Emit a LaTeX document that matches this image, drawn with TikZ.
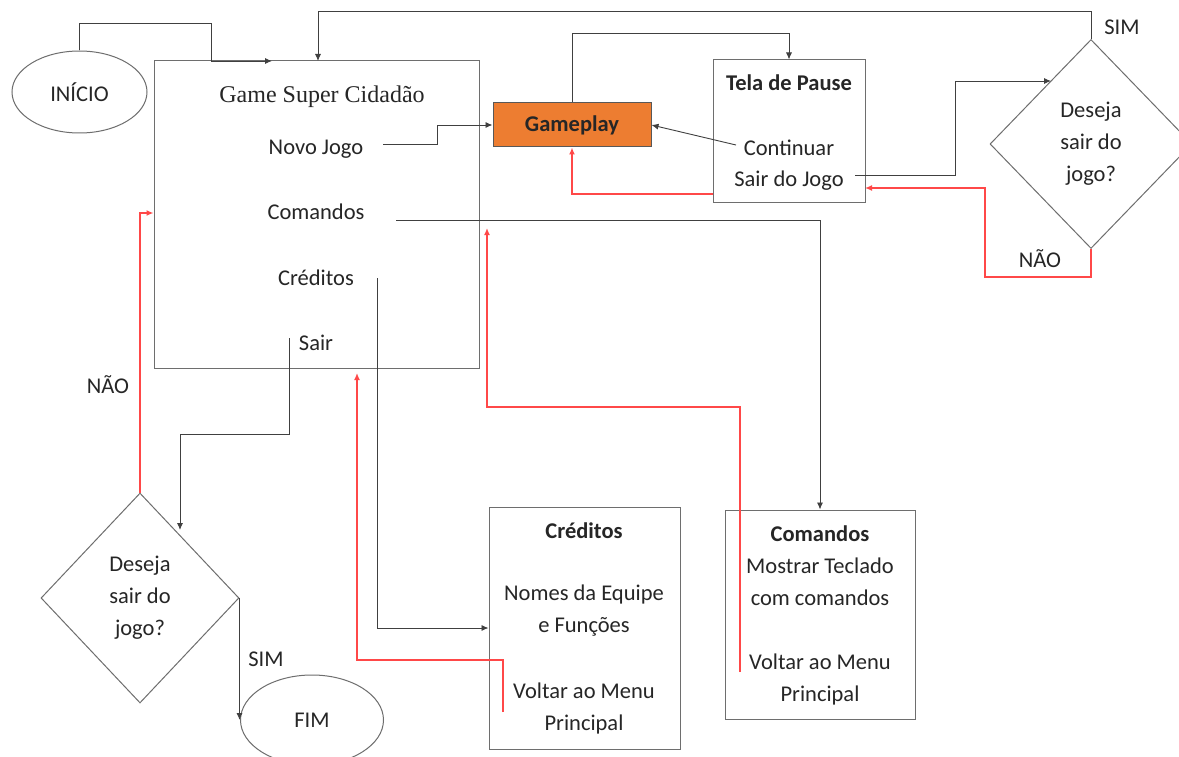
\documentclass[tikz,border=0pt]{standalone}
\usepackage{fontspec}
\setmainfont{Carlito}
\newfontfamily\titleserif{Liberation Serif}
\usetikzlibrary{arrows.meta,shapes.geometric}
\definecolor{lineg}{HTML}{404040}
\definecolor{boxg}{HTML}{6E6E6E}
\definecolor{orangefill}{HTML}{ED7D31}
\definecolor{redline}{HTML}{FF4848}
\definecolor{txt}{HTML}{262626}
\begin{document}
\begin{tikzpicture}[x=1pt,y=-1pt,
  every node/.style={font=\fontsize{22.5}{32}\selectfont, text=txt, inner sep=0pt, align=center},
  box/.style={draw=boxg, line width=1pt},
  conn/.style={draw=lineg, line width=0.9pt, -{Latex[length=7pt,width=6pt]}},
  back/.style={draw=redline, line width=1.6pt, -{Latex[length=7pt,width=6pt]}},
  lbl/.style={font=\fontsize{22.5}{26}\selectfont},
]
\useasboundingbox (0,0) rectangle (1179,757);
\clip (0,0) rectangle (1179,757);
\fill[white] (0,0) rectangle (1179,757);

% shapes
\node[box, ellipse, minimum width=135pt, minimum height=82pt] (inicio) at (79.5,92) {INÍCIO};
\node[box, minimum width=325pt, minimum height=307pt] (menu) at (316.5,214.5) {};
\node[draw=boxg!80!black, line width=1pt, fill=orangefill, minimum width=158pt, minimum height=44pt, font=\fontsize{22.5}{26}\selectfont\bfseries] (gp) at (572,125) {Gameplay};
\node[box, minimum width=152pt, minimum height=143pt] (pause) at (789,131.5) {};
\node[box, diamond, minimum width=202pt, minimum height=209pt] (dr) at (1091,144) {Deseja\\sair do\\jogo?};
\node[box, diamond, minimum width=198pt, minimum height=210pt] (dl) at (140,598) {Deseja\\sair do\\jogo?};
\node[box, ellipse, minimum width=143pt, minimum height=90pt] (fim) at (312,720) {FIM};
\node[box, minimum width=191pt, minimum height=242pt] (credbox) at (584.5,628) {};
\node[box, minimum width=190pt, minimum height=209pt] (cmdbox) at (820,614.5) {};

% texts
\node[font=\fontsize{24}{28}\titleserif] (title) at (322,97) {Game Super Cidadão};
\node (novo) at (316,149) {Novo Jogo};
\node (cmd) at (316,212) {Comandos};
\node (cred) at (316,278) {Créditos};
\node (sair) at (316,343) {Sair};
\node[font=\fontsize{22.5}{26}\selectfont\bfseries] (pausetitle) at (789,83) {Tela de Pause};
\node (cont) at (789,148) {Continuar};
\node (sairjogo) at (789,181) {Sair do Jogo};
\node[font=\fontsize{22.5}{26}\selectfont\bfseries] (credtitle) at (584,531) {Créditos};
\node (nomes) at (584,611) {Nomes da Equipe\\e Funções};
\node (voltar1) at (584,708) {Voltar ao Menu\\Principal};
\node[font=\fontsize{22.5}{26}\selectfont\bfseries] (cmdtitle) at (820,534) {Comandos};
\node (mostrar) at (820,582) {Mostrar Teclado\\com comandos};
\node (voltar2) at (820,679) {Voltar ao Menu\\Principal};

% labels
\node[lbl] (simr) at (1122,27) {SIM};
\node[lbl] (naor) at (1040,259) {NÃO};
\node[lbl] (naol) at (108,385) {NÃO};
\node[lbl] (siml) at (266,659) {SIM};

% connectors
\draw[conn] (inicio.north) |- (211,23) |- (272,61);
\draw[conn] (dr.north) |- (318,11) -- (318,61);
\draw[conn] (383,144) -| (437,125) -- (gp.west);
\draw[conn] (gp.north) |- (789,33) -- (pause.north);
\draw[conn] (736,145) -- (gp.east);
\draw[back] (713,194) -| (gp.south);
\draw[conn] (855,175) -| (955,81) -- (1051,81);
\coordinate (nr1) at (1091,277);
\coordinate (nr2) at (985,277);
\coordinate (nr3) at (985,188);
\draw[back] (dr.south) -- (nr1) -- (nr2) -- (nr3) -- (865,188);
\draw[conn] (396,220) -| (cmdbox.north);
\draw[back] (740,672) |- (487,407) -- (487,228);
\draw[conn] (377,278) |- (credbox.west);
\draw[back] (503,712) |- (357,660) -- (357,373);
\draw[conn] (289,338) |- (180,434) -- (180,530);
\draw[back] (dl.north) |- (menu.west |- 0,213);
\draw[conn] (dl.east) -- (dl.east |- fim.west);
\end{tikzpicture}
\end{document}
